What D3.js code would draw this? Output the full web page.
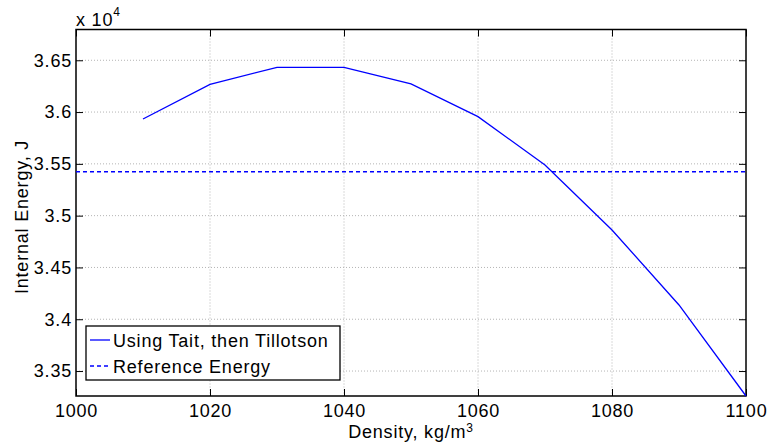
<!DOCTYPE html>
<html>
<head>
<meta charset="utf-8">
<script src="https://cdn.jsdelivr.net/npm/d3@7"></script>
<style>
  body { margin: 0; background: #fff; }
  text { font-family: "Liberation Sans", Helvetica, Arial, sans-serif; fill: #000; letter-spacing: 0.8px; }
</style>
</head>
<body>
<script>
// Internal energy vs density (values in units of 1e4 J)

var density = [1010, 1020, 1030, 1040, 1050, 1060, 1070, 1080, 1090, 1100];
var energy = [3.5933, 3.6268, 3.6432, 3.6432, 3.6271, 3.5956, 3.5489, 3.4862, 3.4138, 3.3259];
var referenceEnergy = 3.5424;
var xTicks = [1000, 1020, 1040, 1060, 1080, 1100];
var yTicks = [3.35, 3.4, 3.45, 3.5, 3.55, 3.6, 3.65];
var legendLabels = ["Using Tait, then Tillotson", "Reference Energy"];

var svgWidth = 771;
var svgHeight = 448;
var fontSize = "18px";

var margin = { top: 29.5, right: 25, bottom: 52, left: 76 };
var chartWidth = svgWidth - margin.left - margin.right;
var chartHeight = svgHeight - margin.top - margin.bottom;

var svg = d3.select("body")
  .append("svg")
  .attr("width", svgWidth)
  .attr("height", svgHeight);

var chartGroup = svg.append("g")
  .attr("transform", `translate(${margin.left}, ${margin.top})`);

var xScale = d3.scaleLinear()
  .domain([1000, 1100])
  .range([0, chartWidth]);

var yScale = d3.scaleLinear()
  .domain([3.3259, 3.6797])
  .range([chartHeight, 0]);

// dotted grid
chartGroup.selectAll(".xgrid")
  .data(xTicks.filter(d => d > 1000 && d < 1100))
  .enter().append("line")
  .attr("x1", d => xScale(d)).attr("x2", d => xScale(d))
  .attr("y1", 0).attr("y2", chartHeight)
  .attr("stroke", "#b4b4b4")
  .attr("stroke-dasharray", "1,2");

chartGroup.selectAll(".ygrid")
  .data(yTicks)
  .enter().append("line")
  .attr("x1", 0).attr("x2", chartWidth)
  .attr("y1", d => yScale(d)).attr("y2", d => yScale(d))
  .attr("stroke", "#b4b4b4")
  .attr("stroke-dasharray", "1,2");

// axes with inward ticks
var bottomAxis = d3.axisBottom(xScale).tickValues(xTicks).tickSize(-7).tickPadding(8).tickFormat(d3.format("d"));
var leftAxis = d3.axisLeft(yScale).tickValues(yTicks).tickSize(-7).tickPadding(4).tickFormat(d => String(+d.toFixed(2)));
var topAxis = d3.axisTop(xScale).tickValues(xTicks).tickSize(-7).tickFormat("");
var rightAxis = d3.axisRight(yScale).tickValues(yTicks).tickSize(-7).tickFormat("");

function styleAxis(g) {
  g.select(".domain").remove();
  g.selectAll("line").attr("stroke", "#000");
  g.selectAll("text")
    .style("font-family", '"Liberation Sans", Helvetica, Arial, sans-serif')
    .style("font-size", fontSize)
    .attr("fill", "#000");
}

chartGroup.append("g")
  .attr("transform", `translate(0, ${chartHeight})`)
  .call(bottomAxis)
  .call(styleAxis);

chartGroup.append("g")
  .call(leftAxis)
  .call(styleAxis);

chartGroup.append("g").call(topAxis).call(styleAxis);
chartGroup.append("g")
  .attr("transform", `translate(${chartWidth}, 0)`)
  .call(rightAxis).call(styleAxis);

// box
chartGroup.append("rect")
  .attr("x", 0).attr("y", 0)
  .attr("width", chartWidth).attr("height", chartHeight)
  .attr("fill", "none")
  .attr("stroke", "#000")
  .attr("stroke-width", 1.5);

// reference line
chartGroup.append("line")
  .attr("x1", 0).attr("x2", chartWidth)
  .attr("y1", yScale(referenceEnergy)).attr("y2", yScale(referenceEnergy))
  .attr("stroke", "#0000ff")
  .attr("stroke-width", 1.3)
  .attr("stroke-dasharray", "4,3");

// energy line
var drawLine = d3.line()
  .x((d, i) => xScale(density[i]))
  .y(d => yScale(d));

chartGroup.append("path")
  .attr("d", drawLine(energy))
  .attr("fill", "none")
  .attr("stroke", "#0000ff")
  .attr("stroke-width", 1.3);

// exponent label
var expo = svg.append("text")
  .attr("x", margin.left)
  .attr("y", 26)
  .style("font-size", fontSize);
expo.append("tspan").text("x 10");
expo.append("tspan").attr("dy", -10).style("font-size", "12px").text("4");

// axis labels
var xLabel = svg.append("text")
  .attr("x", margin.left + chartWidth / 2)
  .attr("y", 438)
  .attr("text-anchor", "middle")
  .style("font-size", fontSize);
xLabel.append("tspan").text("Density, kg/m");
xLabel.append("tspan").attr("dy", -6).style("font-size", "12px").text("3");

svg.append("text")
  .attr("transform", `translate(28, 217) rotate(-90)`)
  .attr("text-anchor", "middle")
  .style("font-size", fontSize)
  .text("Internal Energy, J");

// legend
var legend = svg.append("g").attr("transform", "translate(86, 326)");
legend.append("rect")
  .attr("width", 254).attr("height", 54)
  .attr("fill", "#fff")
  .attr("stroke", "#000")
  .attr("stroke-width", 1.3);

legendLabels.forEach(function (label, i) {
  var yy = 14 + i * 26;
  legend.append("line")
    .attr("x1", 4).attr("x2", 24)
    .attr("y1", yy).attr("y2", yy)
    .attr("stroke", "#0000ff")
    .attr("stroke-width", 1.3)
    .attr("stroke-dasharray", i === 1 ? "4,3" : null);
  legend.append("text")
    .attr("x", 27)
    .attr("y", yy + 7)
    .style("font-size", fontSize)
    .text(label);
});
</script>
</body>
</html>
